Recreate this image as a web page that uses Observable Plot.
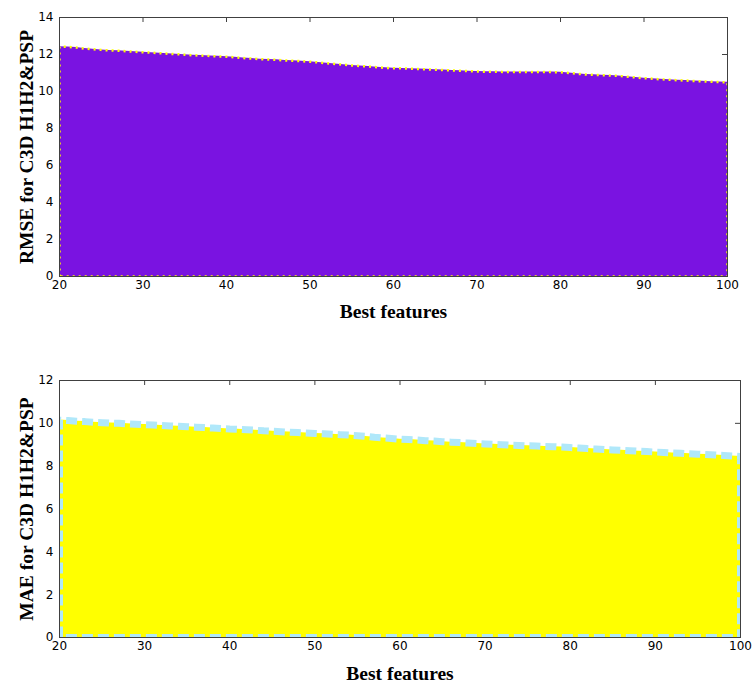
<!DOCTYPE html>
<html><head><meta charset="utf-8">
<script src="https://cdn.jsdelivr.net/npm/d3@7"></script>
<script src="https://cdn.jsdelivr.net/npm/@observablehq/plot@0.6"></script>
<style>body{margin:0;background:#fff;} svg{display:block;}</style>
</head><body><div id="c"></div>
<script>
const features = [20,21,22,23,24,25,26,27,28,29,30,31,32,33,34,35,36,37,38,39,40,41,42,43,44,45,46,47,48,49,50,51,52,53,54,55,56,57,58,59,60,61,62,63,64,65,66,67,68,69,70,71,72,73,74,75,76,77,78,79,80,81,82,83,84,85,86,87,88,89,90,91,92,93,94,95,96,97,98,99,100];
const rmse = [12.42,12.41,12.38,12.32,12.28,12.25,12.22,12.2,12.18,12.15,12.12,12.1,12.07,12.04,12.02,11.99,11.96,11.94,11.92,11.9,11.88,11.85,11.81,11.78,11.75,11.73,11.71,11.68,11.66,11.64,11.61,11.57,11.53,11.49,11.45,11.41,11.38,11.35,11.31,11.28,11.26,11.25,11.23,11.21,11.2,11.18,11.16,11.14,11.12,11.1,11.08,11.07,11.07,11.06,11.06,11.06,11.05,11.05,11.05,11.05,11.04,11.0,10.96,10.92,10.9,10.88,10.86,10.84,10.8,10.76,10.72,10.69,10.66,10.64,10.61,10.59,10.57,10.55,10.53,10.51,10.5];
const mae = [10.15,10.13,10.1,10.08,10.05,10.03,10.01,10.0,9.98,9.96,9.94,9.92,9.9,9.88,9.86,9.84,9.82,9.8,9.78,9.76,9.74,9.72,9.7,9.68,9.65,9.63,9.61,9.59,9.57,9.55,9.53,9.51,9.49,9.47,9.45,9.42,9.39,9.35,9.32,9.29,9.26,9.24,9.22,9.19,9.17,9.14,9.12,9.1,9.08,9.06,9.04,9.02,9.0,8.98,8.97,8.95,8.94,8.92,8.91,8.89,8.87,8.85,8.82,8.8,8.78,8.76,8.74,8.72,8.7,8.68,8.66,8.64,8.62,8.6,8.58,8.56,8.54,8.52,8.5,8.47,8.45];
const xTicks = [20,30,40,50,60,70,80,90,100];
const rmseTicks = [0,2,4,6,8,10,12,14];
const maeTicks = [0,2,4,6,8,10,12];
const xLabel = "Best features";
const rmseLabel = "RMSE for C3D H1H2&PSP";
const maeLabel = "MAE for C3D H1H2&PSP";

function panel(o) {
  const data = features.map((f, i) => ({x: f, y: o.values[i]}));
  const first = features[0], last = features[features.length - 1];
  const outline = [{x: first, y: 0}, ...data, {x: last, y: 0}, {x: first, y: 0}];
  const fw = o.width - o.ml - o.mr;
  const fh = o.height - o.mt - o.mb;
  const axisColor = "#404040";
  const labelFont = {fontFamily: "Liberation Serif", fontWeight: "bold", fontSize: 19.5, fill: "#000"};
  return Plot.plot({
    width: o.width, height: o.height,
    marginTop: o.mt, marginBottom: o.mb, marginLeft: o.ml, marginRight: o.mr,
    style: {fontFamily: "DejaVu Sans", fontSize: "12px", color: "#000", background: "#fff"},
    x: {domain: [20, 100]},
    y: {domain: [0, o.yMax]},
    marks: [
      Plot.tickY(o.yTicks, {y: d => d, stroke: axisColor, insetRight: fw - 5}),
      Plot.tickY(o.yTicks, {y: d => d, stroke: axisColor, insetLeft: fw - 5}),
      Plot.tickX(xTicks, {x: d => d, stroke: axisColor, insetTop: fh - 5}),
      Plot.tickX(xTicks, {x: d => d, stroke: axisColor, insetBottom: fh - 5}),
      Plot.areaY(data, {x: "x", y: "y", fill: o.fill}),
      Plot.line(outline, {x: "x", y: "y", stroke: o.edge, strokeWidth: o.edgeWidth, strokeDasharray: o.dash, strokeLinecap: "butt", strokeLinejoin: "miter", clip: true}),
      Plot.frame({stroke: axisColor}),
      Plot.axisX({ticks: xTicks, tickSize: 0, tickPadding: 4, label: null, fill: "#000"}),
      Plot.axisY({ticks: o.yTicks, tickSize: 0, tickPadding: 6, label: null, fill: "#000"}),
      Plot.text([xLabel], {text: d => d, frameAnchor: "bottom", dy: o.xLabelDy, lineAnchor: "middle", textAnchor: "middle", ...labelFont}),
      Plot.text([o.yLabel], {text: d => d, frameAnchor: "left", rotate: -90, dx: -33, lineAnchor: "middle", textAnchor: "middle", ...labelFont})
    ]
  });
}

const c = document.getElementById("c");
c.append(panel({values: rmse, yMax: 14, yTicks: rmseTicks, yLabel: rmseLabel,
  fill: "#7a13e1", edge: "#ffff00", edgeWidth: 2.5, dash: "2,4",
  width: 753, height: 340, mt: 17, mb: 64, ml: 59, mr: 26, xLabelDy: 35}));
c.append(panel({values: mae, yMax: 12, yTicks: maeTicks, yLabel: maeLabel,
  fill: "#ffff00", edge: "#b0e8fa", edgeWidth: 7, dash: "11,5",
  width: 753, height: 346, mt: 40, mb: 49, ml: 59, mr: 13, xLabelDy: 36}));
</script>
</body></html>
